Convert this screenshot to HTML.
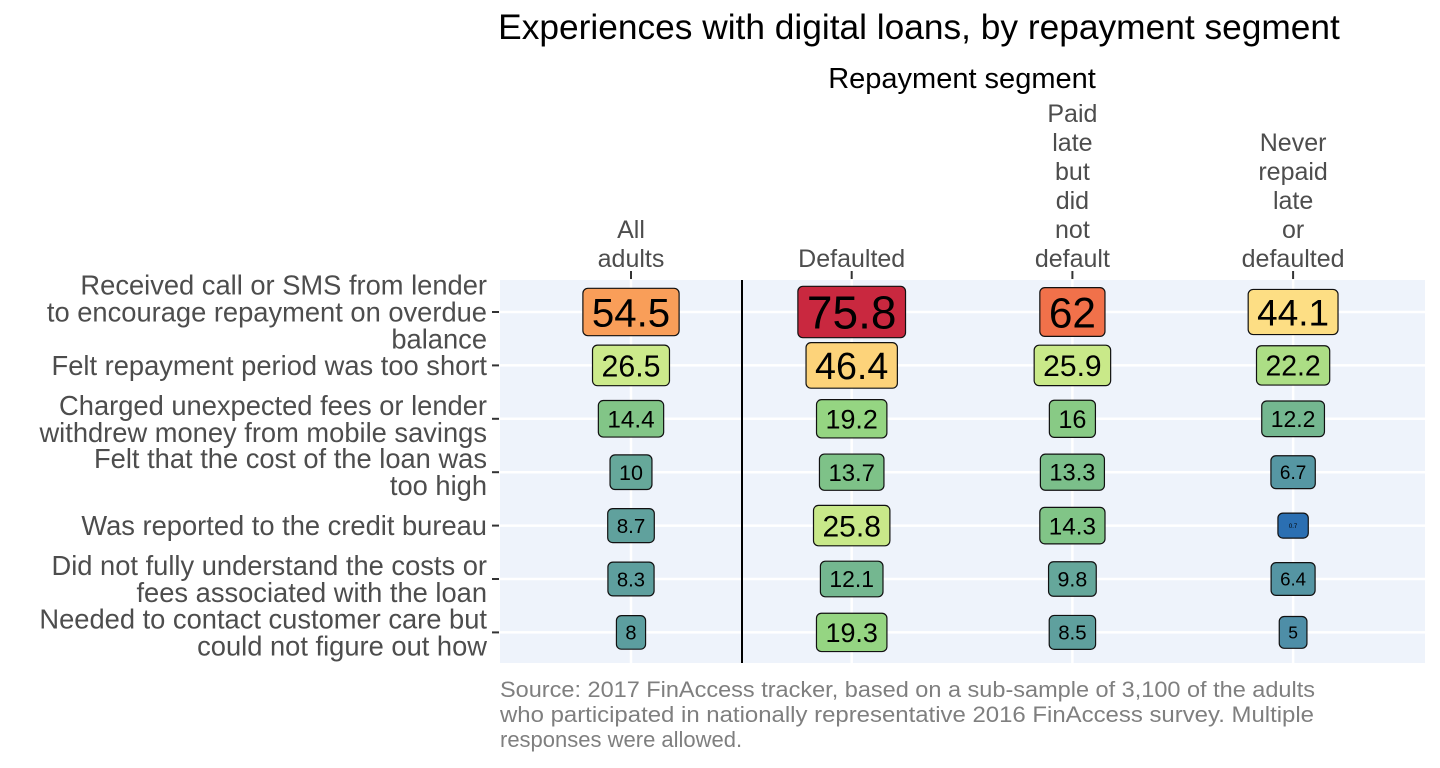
<!DOCTYPE html>
<html><head><meta charset="utf-8"><style>
html,body{margin:0;padding:0;background:#fff;}
svg{display:block;font-family:"Liberation Sans",Arial,sans-serif;}
</style></head><body>
<svg id="chart" width="1440" height="768" viewBox="0 0 1440 768">
<text x="919" y="39" font-size="35.3" text-anchor="middle" fill="#000">Experiences with digital loans, by repayment segment</text>
<text x="962" y="88" font-size="29" text-anchor="middle" fill="#000">Repayment segment</text>
<rect x="500" y="280" width="925" height="383" fill="#eef3fb"/>
<g id="grid"></g>
<line x1="742" y1="280" x2="742" y2="663" stroke="#000" stroke-width="2"/>
<g id="xlabels"></g>
<g id="ylabels"></g>
<g id="marks"></g>
<g fill="#7f7f7f" font-size="22">
<text x="500" y="697" textLength="815" lengthAdjust="spacingAndGlyphs">Source: 2017 FinAccess tracker, based on a sub-sample of 3,100 of the adults</text>
<text x="500" y="722" textLength="814" lengthAdjust="spacingAndGlyphs">who participated in nationally representative 2016 FinAccess survey. Multiple</text>
<text x="500" y="747">responses were allowed.</text>
</g>
</svg>
<script>
const segments = [["All","adults"],["Defaulted"],["Paid","late","but","did","not","default"],["Never","repaid","late","or","defaulted"]];
const rows = [["Received call or SMS from lender","to encourage repayment on overdue","balance"],["Felt repayment period was too short"],["Charged unexpected fees or lender","withdrew money from mobile savings"],["Felt that the cost of the loan was","too high"],["Was reported to the credit bureau"],["Did not fully understand the costs or","fees associated with the loan"],["Needed to contact customer care but","could not figure out how"]];
const allAdults = [54.5,26.5,14.4,10,8.7,8.3,8];
const defaulted = [75.8,46.4,19.2,13.7,25.8,12.1,19.3];
const paidLate = [62,25.9,16,13.3,14.3,9.8,8.5];
const neverLate = [44.1,22.2,12.2,6.7,0.7,6.4,5];
const series = [allAdults,defaulted,paidLate,neverLate];

const NS="http://www.w3.org/2000/svg";
function xPos(i){return 631+i*220.7;}
function yPos(j){return 312+j*53.4;}
function fsz(v){return v<2 ? 6 : 4.43*Math.sqrt(v)+7.5;}
const stops=[[0.7,'#2b6fb2'],[5,'#4e8ea7'],[10,'#66a89a'],[14,'#80c487'],[19,'#93d482'],[26,'#cae989'],[36,'#f2f4a8'],[45,'#fedc80'],[54.5,'#f99e59'],[62,'#f1714a'],[75.8,'#c9283f']];
function hx(c){return [1,3,5].map(k=>parseInt(c.substr(k,2),16));}
function color(v){
  if(v<=stops[0][0])return stops[0][1];
  for(let k=1;k<stops.length;k++){
    if(v<=stops[k][0]){
      const a=hx(stops[k-1][1]),b=hx(stops[k][1]),t=(v-stops[k-1][0])/(stops[k][0]-stops[k-1][0]);
      return 'rgb('+a.map((x,i)=>Math.round(x+(b[i]-x)*t)).join(',')+')';
    }
  }
  return stops[stops.length-1][1];
}
function mk(tag,attrs,parent){const e=document.createElementNS(NS,tag);for(const k in attrs)e.setAttribute(k,attrs[k]);parent.appendChild(e);return e;}
const grid=document.getElementById('grid');
rows.forEach((r,j)=>{
  const l=mk('line',{x1:500,x2:1425,y1:yPos(j),y2:yPos(j),stroke:'#fff','stroke-width':2.5},grid);
  
  
});
segments.forEach((s,i)=>{
  const l=mk('line',{x1:xPos(i),x2:xPos(i),y1:280,y2:663,stroke:'#fff','stroke-width':2.5},grid);
  
  
});
const xl=document.getElementById('xlabels');
segments.forEach((s,i)=>{
  const g=mk('g',{},xl);
  
  
  s.forEach((w,k)=>{
    const t=mk('text',{x:xPos(i),y:267-(s.length-1-k)*29,'font-size':25,'text-anchor':'middle',fill:'#4d4d4d'},g);
    t.textContent=w;
  });
  mk('line',{x1:xPos(i),x2:xPos(i),y1:271,y2:279,stroke:'#333','stroke-width':2},g);
});
const yl=document.getElementById('ylabels');
rows.forEach((r,j)=>{
  const g=mk('g',{},yl);
  
  
  const n=r.length;
  r.forEach((w,k)=>{
    const t=mk('text',{x:487,y:yPos(j)+9.5+(k-(n-1)/2)*27,'font-size':27.3,'text-anchor':'end',fill:'#4d4d4d'},g);
    t.textContent=w;
  });
  mk('line',{x1:492,x2:499,y1:yPos(j),y2:yPos(j),stroke:'#333','stroke-width':2},g);
});
const marks=document.getElementById('marks');
series.forEach((arr,i)=>{
  arr.forEach((v,j)=>{
    const fs=fsz(v);
    const g=mk('g',{},marks);
    
    
    const t=mk('text',{x:xPos(i),y:yPos(j)+fs*0.36,'font-size':fs.toFixed(2),'text-anchor':'middle',fill:'#000'},g);
    t.textContent=String(v);
    const w=t.getComputedTextLength();
    const padX=v<2?11:9,h=v<2?25:0.68*fs+20;
    const r=mk('rect',{x:xPos(i)-w/2-padX,y:yPos(j)-h/2,width:w+2*padX,height:h,rx:5,fill:color(v),stroke:'#111','stroke-width':1.2},g);
    g.insertBefore(r,t);
  });
});
</script>
</body></html>
